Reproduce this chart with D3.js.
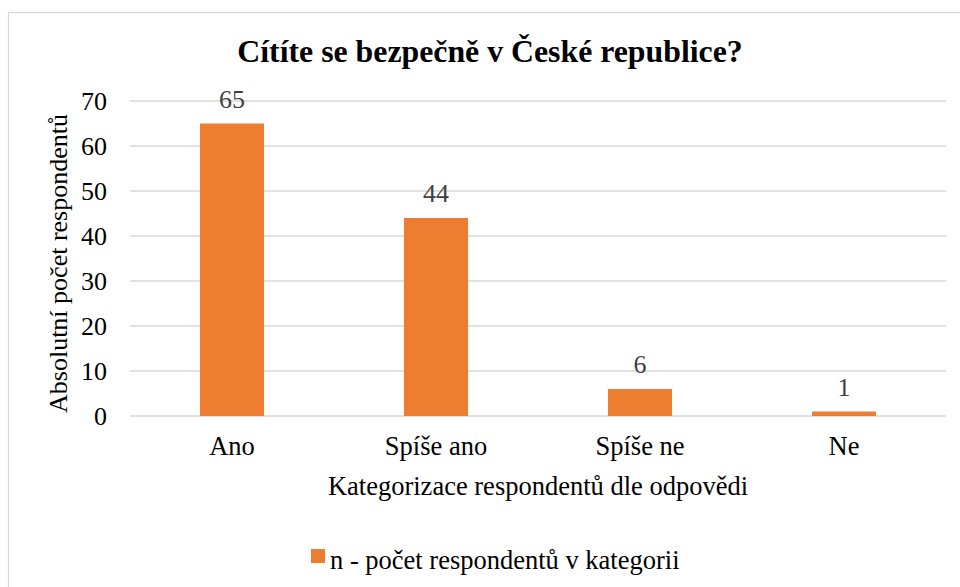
<!DOCTYPE html>
<html>
<head>
<meta charset="utf-8">
<script src="https://cdn.jsdelivr.net/npm/d3@7"></script>
<style>
  body { margin: 0; background: #fff; }
  svg text { font-family: "Liberation Serif", "Times New Roman", serif; }
</style>
</head>
<body>
<svg id="chart" width="960" height="587"></svg>
<script>
// data
var categories = ["Ano", "Spíše ano", "Spíše ne", "Ne"];
var values = [65, 44, 6, 1];
var yTicks = [0, 10, 20, 30, 40, 50, 60, 70];
var seriesName = "n - počet respondentů v kategorii";
var title = "Cítíte se bezpečně v České republice?";
var yTitle = "Absolutní počet respondentů";
var xTitle = "Kategorizace respondentů dle odpovědi";

var svg = d3.select("#chart");
var plotLeft = 130, plotRight = 946, plotTop = 101, plotBottom = 416;

// chart frame
svg.append("rect")
  .attr("x", 8.5).attr("y", 12.5)
  .attr("width", 963).attr("height", 600)
  .attr("fill", "#fff")
  .attr("stroke", "#d9d9d9")
  .attr("stroke-width", 1.3);

var x = d3.scaleBand()
  .domain(categories)
  .range([plotLeft, plotRight])
  .paddingInner(0.686)
  .paddingOuter(0.343);

var y = d3.scaleLinear().domain([0, 70]).range([plotBottom, plotTop]);

// gridlines
svg.append("g")
  .selectAll("line")
  .data(yTicks)
  .enter()
  .append("line")
  .attr("x1", plotLeft).attr("x2", plotRight)
  .attr("y1", function(d) { return y(d); })
  .attr("y2", function(d) { return y(d); })
  .attr("stroke", "#d9d9d9")
  .attr("stroke-width", function(d) { return d == 0 ? 1.6 : 1.3; });

// y axis labels
var yAxis = svg.append("g")
  .attr("transform", "translate(" + plotLeft + ",0)")
  .call(d3.axisLeft(y).tickValues(yTicks).tickSize(0).tickPadding(23));
yAxis.select(".domain").remove();
yAxis.selectAll("text")
  .attr("font-size", "26px")
  .attr("font-family", "Liberation Serif")
  .attr("fill", "#000");

// bars
svg.append("g")
  .selectAll("rect")
  .data(values)
  .enter()
  .append("rect")
  .attr("x", function(d, i) { return x(categories[i]); })
  .attr("y", function(d) { return y(d); })
  .attr("width", x.bandwidth())
  .attr("height", function(d) { return plotBottom - y(d); })
  .attr("fill", "#ED7D31");

// data labels
svg.append("g")
  .selectAll("text")
  .data(values)
  .enter()
  .append("text")
  .attr("x", function(d, i) { return x(categories[i]) + x.bandwidth() / 2; })
  .attr("y", function(d) { return y(d) - 16; })
  .attr("text-anchor", "middle")
  .attr("font-size", "26px")
  .attr("fill", "#404040")
  .text(function(d) { return d; });

// x axis labels
var xAxis = svg.append("g")
  .attr("transform", "translate(0," + plotBottom + ")")
  .call(d3.axisBottom(x).tickSize(0).tickPadding(20));
xAxis.select(".domain").remove();
xAxis.selectAll("text")
  .attr("font-size", "26.5px")
  .attr("font-family", "Liberation Serif")
  .attr("fill", "#000");

// title
svg.append("text")
  .attr("x", 490).attr("y", 62)
  .attr("text-anchor", "middle")
  .attr("font-size", "31.8px")
  .attr("font-weight", "bold")
  .attr("fill", "#000")
  .text(title);

// axis titles
svg.append("text")
  .attr("transform", "translate(67," + ((plotTop + plotBottom) / 2 + 5) + ") rotate(-90)")
  .attr("text-anchor", "middle")
  .attr("font-size", "26px")
  .attr("fill", "#000")
  .text(yTitle);

svg.append("text")
  .attr("x", (plotLeft + plotRight) / 2).attr("y", 495)
  .attr("text-anchor", "middle")
  .attr("font-size", "26.5px")
  .attr("fill", "#000")
  .text(xTitle);

// legend
var legend = svg.append("g").attr("transform", "translate(311,549)");
legend.append("rect")
  .attr("width", 14).attr("height", 14)
  .attr("fill", "#ED7D31");
legend.append("text")
  .attr("x", 19).attr("y", 20)
  .attr("font-size", "26.5px")
  .attr("fill", "#000")
  .text(seriesName);
</script>
</body>
</html>
